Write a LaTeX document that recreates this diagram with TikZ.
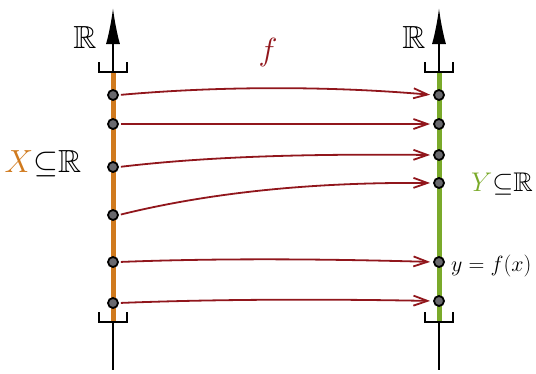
\RequirePackage{fix-cm}
\documentclass[tikz,border=0pt]{standalone}
\usepackage{amssymb}
\usetikzlibrary{arrows.meta}
\definecolor{setX}{RGB}{208,122,30}
\definecolor{setY}{RGB}{122,170,42}
\definecolor{maparrow}{RGB}{145,22,28}
\definecolor{dotfill}{RGB}{105,105,110}
\tikzset{
  axisline/.style={line width=2pt,black},
  setbar/.style={line width=5pt},
  pt/.style={circle,draw=black,line width=1.8pt,fill=dotfill,inner sep=0pt,minimum size=10pt},
  maparr/.style={maparrow,line width=1.8pt,-{Straight Barb[length=14pt,width=10pt,line width=1.8pt]},shorten >=3pt,shorten <=2pt},
  lbl/.style={inner sep=0pt,font=\fontsize{32}{34}\selectfont}
}
\newcommand{\forkat}[2]{%
  \draw[axisline] (#1-14,#2-10) -- (#1-14,#2) -- (#1+14,#2) -- (#1+14,#2-10);}
\begin{document}
\begin{tikzpicture}[x=1pt,y=-1pt]
\useasboundingbox (0,0) rectangle (536,373);

% left real line with the set X
\coordinate (ltop) at (113,8);
\coordinate (lhi) at (113,72);
\coordinate (llo) at (113,322);
\coordinate (lend) at (113,370);
\draw[axisline,-{Latex[length=36pt,width=14pt]}] (lhi) -- (ltop);
\draw[axisline] (llo) -- (lend);
\draw[setbar,setX] (lhi) -- (llo);
\forkat{113}{72}
\forkat{113}{322}

% right real line with the set Y
\coordinate (rtop) at (439,8);
\coordinate (rhi) at (439,72);
\coordinate (rlo) at (439,322);
\coordinate (rend) at (439,370);
\draw[axisline,-{Latex[length=36pt,width=14pt]}] (rhi) -- (rtop);
\draw[axisline] (rlo) -- (rend);
\draw[setbar,setY] (rhi) -- (rlo);
\forkat{439}{72}
\forkat{439}{322}

% points of X
\node[pt] (l1) at (113,95) {};
\node[pt] (l2) at (113,124) {};
\node[pt] (l3) at (113,167) {};
\node[pt] (l4) at (113,215) {};
\node[pt] (l5) at (113,262) {};
\node[pt] (l6) at (113,303) {};

% points of Y
\node[pt] (r1) at (439,95) {};
\node[pt] (r2) at (439,124) {};
\node[pt] (r3) at (439,155) {};
\node[pt] (r4) at (439,183) {};
\node[pt] (r5) at (439,262) {};
\node[pt] (r6) at (439,301) {};

% the map f
\draw[maparr] (l1.east) .. controls (220,86) and (330,86) .. (r1.west);
\draw[maparr] (l2.east) -- (r2.west);
\draw[maparr] (l3.east) .. controls (220,155) and (330,154) .. (r3.west);
\draw[maparr] (l4.east) .. controls (200,195) and (300,182) .. (r4.west);
\draw[maparr] (l5.east) .. controls (220,258) and (330,259) .. (r5.west);
\draw[maparr] (l6.east) .. controls (220,299) and (330,299) .. (r6.west);

% labels
\node[lbl] (rl) at (85,37) {$\mathbb{R}$};
\node[lbl] (rr) at (414,37) {$\mathbb{R}$};
\node[lbl,text=maparrow] (fl) at (268,52) {$f$};
\node[lbl] (xl) at (43,164) {$\color{setX}X\color{black}{\subseteq}\mathbb{R}$};
\node[lbl,font=\fontsize{27}{29}\selectfont] (yl) at (502,184) {$\color{setY}Y\color{black}{\subseteq}\mathbb{R}$};
\node[lbl,font=\fontsize{22}{24}\selectfont,anchor=west] (fx) at (451,266) {$y=f(x)$};
\end{tikzpicture}
\end{document}
